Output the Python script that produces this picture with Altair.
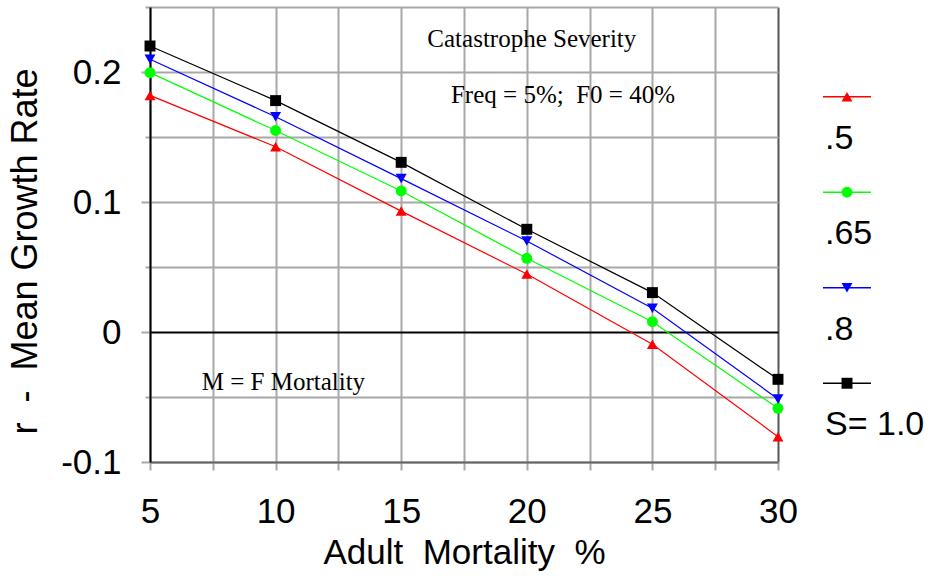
import altair as alt
import pandas as pd

# Adult mortality (%) on the x axis
mortality = [5, 10, 15, 20, 25, 30]

# Catastrophe severity series
severity = [".5", ".65", ".8", "S= 1.0"]
series_colors = ["#ff0000", "#00ff00", "#0000ff", "#000000"]
series_shapes = ["triangle-up", "circle", "triangle-down", "square"]

# Mean growth rate r for each severity level
r_s05 = [0.182, 0.1425, 0.093, 0.0446, -0.0095, -0.0805]
r_s065 = [0.1995, 0.155, 0.1085, 0.0567, 0.0079, -0.0587]
r_s08 = [0.2098, 0.1656, 0.118, 0.070, 0.0182, -0.0515]
r_s10 = [0.220, 0.178, 0.1305, 0.079, 0.0303, -0.0364]

# Text notes placed in data coordinates
note_text = ["Catastrophe Severity", "Freq = 5%;\u00a0 F0 = 40%", "M = F Mortality"]
note_x = [20.2, 21.44, 10.31]
note_y = [0.219, 0.1762, -0.0446]

x_grid = [5, 7.5, 10, 12.5, 15, 17.5, 20, 22.5, 25, 27.5, 30]
y_grid = [-0.1, -0.05, 0, 0.05, 0.1, 0.15, 0.2, 0.25]

rows = []
for name, vals in zip(severity, [r_s05, r_s065, r_s08, r_s10]):
    for m, r in zip(mortality, vals):
        rows.append({"mortality": m, "r": r, "series": name})
df = pd.DataFrame(rows)
notes = pd.DataFrame({"text": note_text, "mortality": note_x, "r": note_y})
legend_df = pd.DataFrame({"series": severity})

SANS = "Liberation Sans"
SERIF = "Liberation Serif"
GRID = "#a8a8a8"

color_scale = alt.Scale(domain=severity, range=series_colors)
shape_scale = alt.Scale(domain=severity, range=series_shapes)

x_enc = alt.X(
    "mortality:Q",
    scale=alt.Scale(domain=[5, 30], nice=False, zero=False),
    axis=alt.Axis(
        values=x_grid,
        labelExpr="datum.value % 5 === 0 ? datum.label : ''",
        labelFlush=False,
        title="Adult\u00a0 Mortality\u00a0 %",
        titleFont=SANS, titleFontSize=35, titleFontWeight="normal", titleColor="black",
        titlePadding=6,
        labelFont=SANS, labelFontSize=35, labelColor="black", labelPadding=24,
        tickSize=8, tickColor=GRID, tickWidth=2,
        domainColor="#666666", domainWidth=2,
        grid=True, gridWidth=2,
        gridColor={"condition": {"test": "datum.value === 30", "value": "#555555"}, "value": GRID},
    ),
)
y_enc = alt.Y(
    "r:Q",
    scale=alt.Scale(domain=[-0.1, 0.25], nice=False, zero=False),
    axis=alt.Axis(
        values=y_grid,
        labelExpr="abs(round(datum.value * 20)) % 2 === 0 && datum.value < 0.24 ? '' + datum.value : ''",
        labelFlush=False,
        title="r\u00a0 -\u00a0 Mean Growth Rate",
        titleFont=SANS, titleFontSize=36, titleFontWeight="normal", titleColor="black",
        titlePadding=16, titleY=244,
        labelFont=SANS, labelFontSize=35, labelColor="black", labelPadding=20,
        tickColor=GRID, tickWidth=2,
        tickSize={"condition": {"test": "abs(round(datum.value * 20)) % 2 === 0", "value": 9}, "value": 5},
        domainColor="black", domainWidth=2,
        grid=True, gridWidth=2,
        gridColor={"condition": {"test": "datum.value === 0", "value": "black"}, "value": GRID},
    ),
)

base = alt.Chart(df).encode(
    x=x_enc,
    y=y_enc,
    color=alt.Color("series:N", scale=color_scale, legend=None),
)
lines = base.mark_line(strokeWidth=1.2)
points = base.mark_point(filled=True, size=120, opacity=1).encode(
    shape=alt.Shape("series:N", scale=shape_scale, legend=None)
)
note_marks = alt.Chart(notes).mark_text(
    font=SERIF, fontSize=25, align="center", baseline="alphabetic", color="black"
).encode(x="mortality:Q", y="r:Q", text="text:N")

main = alt.layer(lines, points, note_marks)

# Legend column to the right of the plot: line sample with marker, label below
leg_y = alt.Y(
    "series:N",
    sort=severity,
    scale=alt.Scale(domain=severity, range=[42, 424], padding=0),
    axis=None,
)
leg_base = alt.Chart(legend_df).encode(
    y=leg_y,
    color=alt.Color("series:N", scale=color_scale, legend=None),
)
leg_rule = leg_base.mark_rule(strokeWidth=1.5).encode(x=alt.value(673), x2=alt.value(721))
leg_point = leg_base.mark_point(filled=True, size=120, opacity=1).encode(
    x=alt.value(697),
    shape=alt.Shape("series:N", scale=shape_scale, legend=None),
)
leg_text = leg_base.mark_text(
    font=SANS, fontSize=34, align="left", baseline="middle", dy=42, color="black"
).encode(x=alt.value(675), text="series:N", color=alt.value("black"))
legend = alt.layer(leg_rule, leg_point, leg_text)

chart = (
    alt.layer(main, legend)
    .resolve_scale(y="independent")
    .properties(
        width=628,
        height=455,
        autosize=alt.AutoSizeParams(type="none"),
        padding={"left": 150, "top": 7, "right": 154, "bottom": 116},
        background="white",
    )
    .configure_view(stroke=None)
)

chart.save("out.html", embed_options={"renderer": "svg", "actions": False})
